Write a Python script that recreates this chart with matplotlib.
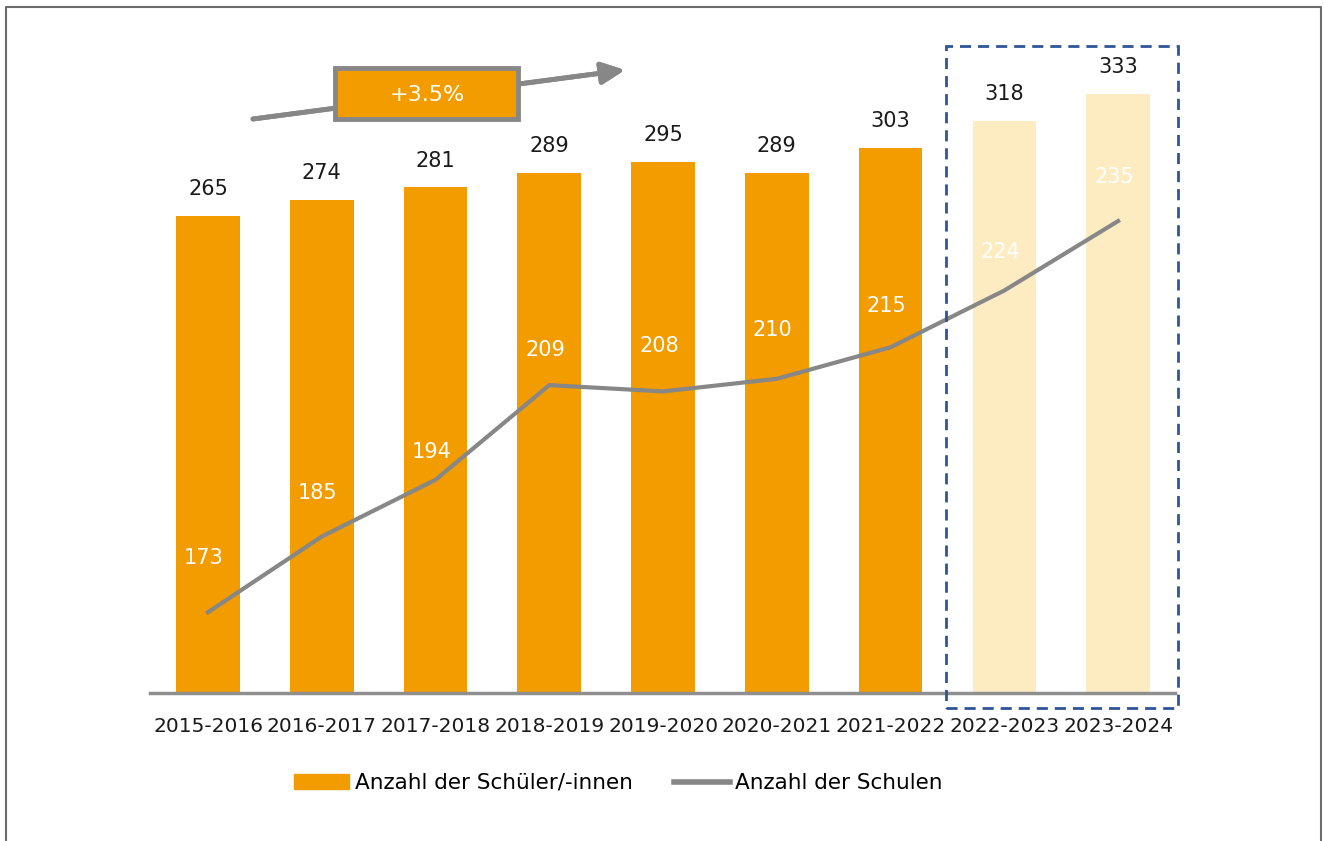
import matplotlib.pyplot as plt
from matplotlib.patches import Rectangle
from matplotlib.lines import Line2D

# data
years = ['2015-2016', '2016-2017', '2017-2018', '2018-2019', '2019-2020',
         '2020-2021', '2021-2022', '2022-2023', '2023-2024']
schueler = [265, 274, 281, 289, 295, 289, 303, 318, 333]
schulen = [173, 185, 194, 209, 208, 210, 215, 224, 235]
forecast = [False] * 7 + [True] * 2

# vertical shift (points) of the white line labels
label_dy = [39, 31, 20, 25, 33, 35, 30, 28, 32]

orange = '#F39C00'
light = '#FDECC2'
grey = '#878787'

plt.rcParams['font.family'] = ['DejaVu Sans']

fig = plt.figure(figsize=(13.24, 8.41), dpi=100)
ax = fig.add_axes([150 / 1324, 1 - 693 / 841, 1025 / 1324, 653 / 841])
ax2 = ax.twinx()

x = list(range(len(years)))
colors = [light if f else orange for f in forecast]
bars = ax.bar(x, schueler, width=0.56, color=colors, zorder=2)
for xi, v in zip(x, schueler):
    ax.annotate(str(v), (xi, v), xytext=(0, 12), textcoords='offset points',
                ha='center', va='bottom', fontsize=15, color='#1a1a1a')

ax.set_xlim(-0.51, 8.5)
ax.set_ylim(0, 362.8)
ax.set_yticks([])
for s in ['top', 'right', 'left']:
    ax.spines[s].set_visible(False)
ax.spines['bottom'].set_color('#8f8f8f')
ax.spines['bottom'].set_linewidth(2.5)
ax.set_xticks(x)
ax.set_xticklabels(years, fontsize=14.5, color='#1a1a1a')
ax.tick_params(axis='x', length=0, pad=17)

ax2.plot(x, schulen, color=grey, linewidth=3, zorder=3)
ax2.set_ylim(160.2, 263.7)
ax2.set_yticks([])
for s in ax2.spines.values():
    s.set_visible(False)
for xi, v, dy in zip(x, schulen, label_dy):
    ax2.annotate(str(v), (xi, v), xytext=(-3, dy), textcoords='offset points',
                 ha='center', va='center', fontsize=15, color='white')

# growth arrow with box
fig.add_artist(plt.annotate('', xy=(625 / 1324, 1 - 70 / 841), xycoords='figure fraction',
                            xytext=(253 / 1324, 1 - 119 / 841), textcoords='figure fraction',
                            arrowprops=dict(arrowstyle='-|>,head_length=0.7,head_width=0.33',
                                            mutation_scale=20, color=grey, lw=3.5,
                                            shrinkA=0, shrinkB=0)))
fig.add_artist(Rectangle((335 / 1324, 1 - 119 / 841), 183 / 1324, 51 / 841,
                         transform=fig.transFigure, facecolor=orange,
                         edgecolor=grey, linewidth=3.5, zorder=5))
fig.text(427 / 1324, 1 - 95 / 841, '+3.5%', ha='center', va='center',
         fontsize=16, color='white', zorder=6)

# dashed frame around the forecast years
fig.add_artist(Rectangle((946 / 1324, 1 - 708 / 841), 232 / 1324, 662 / 841,
                         transform=fig.transFigure, fill=False,
                         edgecolor='#2F5597', linewidth=2, linestyle=(0, (4, 2.5))))

# outer frame (no bottom edge)
fig.add_artist(Line2D([6 / 1324, 6 / 1324, 1321 / 1324, 1321 / 1324],
                      [0, 1 - 7 / 841, 1 - 7 / 841, 0],
                      transform=fig.transFigure, color='#6b6b6b', linewidth=1.5))

handles = [Rectangle((0, 0), 1, 1, color=orange),
           Line2D([0], [0], color=grey, linewidth=4)]
fig.legend(handles, ['Anzahl der Schüler/-innen', 'Anzahl der Schulen'],
           loc='center', bbox_to_anchor=(618 / 1324, 1 - 783 / 841), ncol=2,
           frameon=False, fontsize=15.5, handlelength=2.6, handleheight=0.65,
           columnspacing=1.9, handletextpad=0.25)

plt.savefig('out.png', dpi=100)
